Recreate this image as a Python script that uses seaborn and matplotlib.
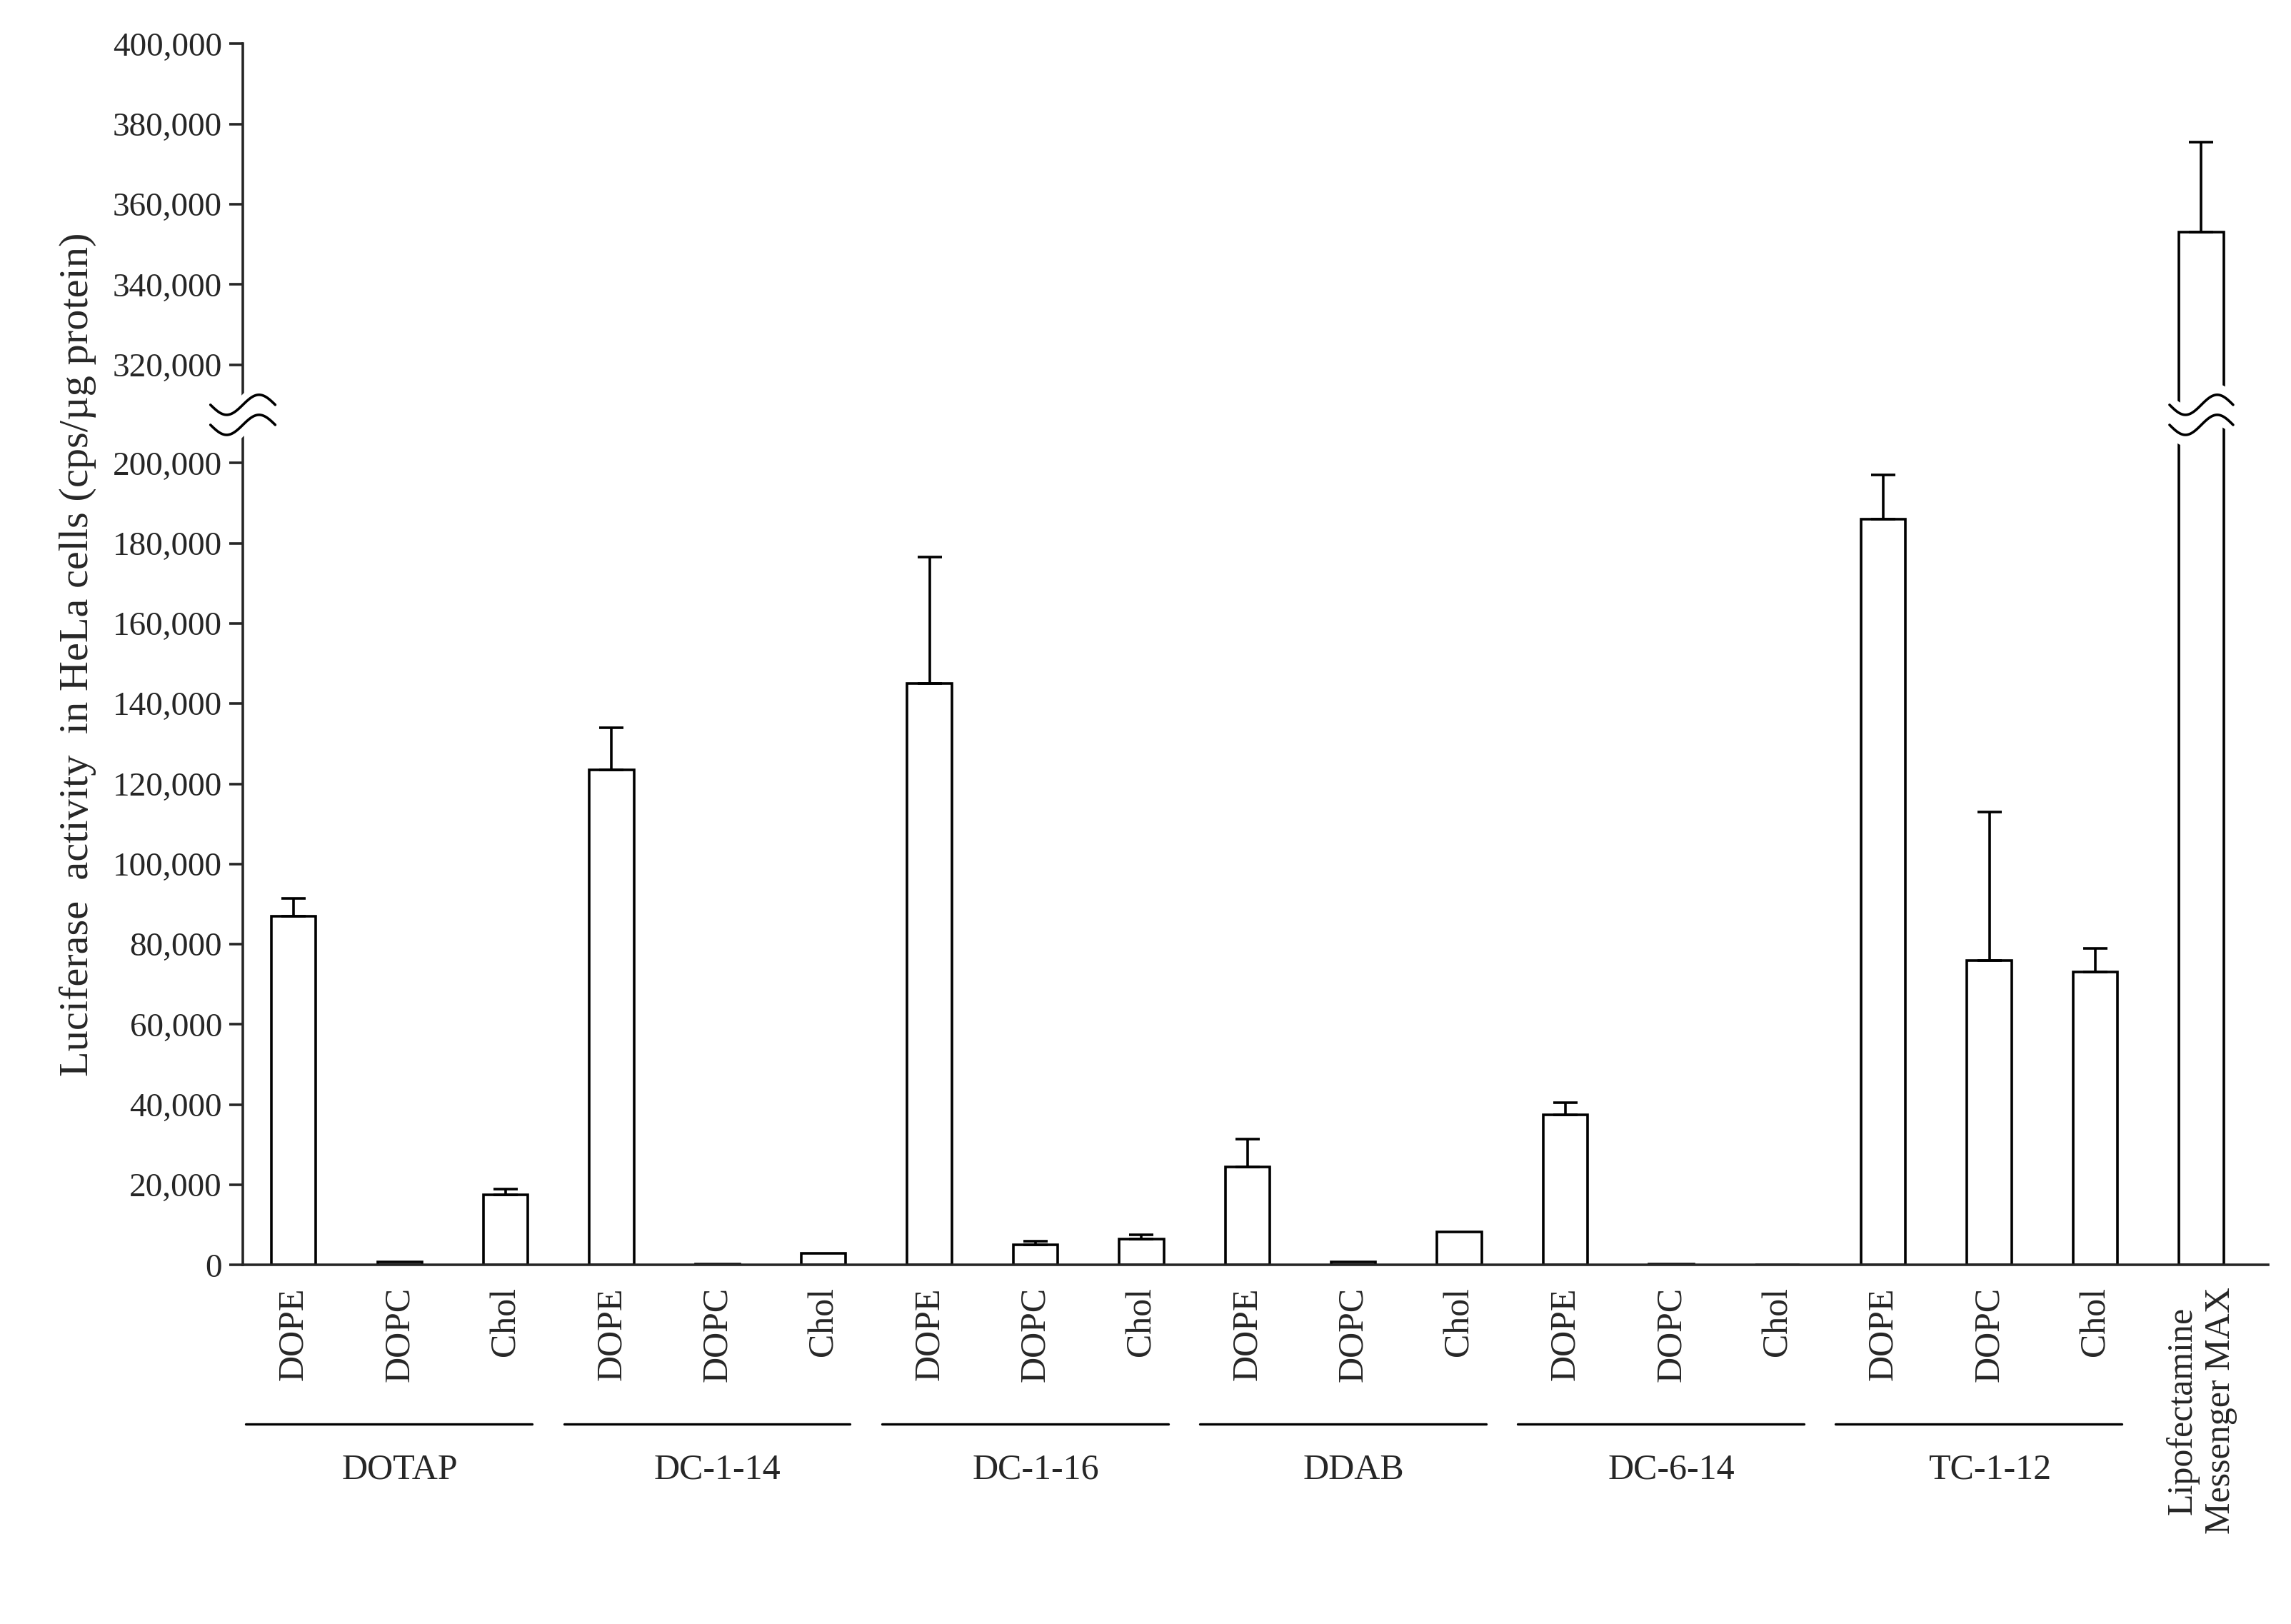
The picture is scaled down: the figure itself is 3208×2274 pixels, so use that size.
import numpy as np
import matplotlib
matplotlib.use("Agg")
import matplotlib.pyplot as plt
import matplotlib.transforms as mtransforms
import seaborn as sns

groups = ["DOTAP", "DC-1-14", "DC-1-16", "DDAB", "DC-6-14", "TC-1-12"]
helpers = ["DOPE", "DOPC", "Chol"]
values = [87000, 800, 17500,
          123500, 300, 3000,
          145000, 5000, 6500,
          24500, 800, 8200,
          37500, 300, 0,
          186000, 76000, 73000,
          353000]
errors = [4500, 0, 1500,
          10500, 0, 0,
          31500, 1000, 1000,
          7000, 0, 0,
          3000, 0, 0,
          11000, 37000, 6000,
          22500]
lower_ticks = [0, 20000, 40000, 60000, 80000, 100000, 120000, 140000, 160000, 180000, 200000]
upper_ticks = [320000, 340000, 360000, 380000, 400000]

# broken axis: values above the break are shifted down
SHIFT = 320000 - 224500
def disp(v):
    return v - SHIFT if v >= 300000 else v

sns.set_style("ticks")
plt.rcParams["font.family"] = ["Liberation Serif", "DejaVu Serif"]

fig = plt.figure(figsize=(16.04, 11.37), dpi=200)
ax = fig.add_axes([0.106, 0.221, 0.884, 0.752])

pos = np.arange(len(values))
dv = np.array([disp(v) for v in values])
top = np.array([disp(v + e) for v, e in zip(values, errors)]) - dv
sns.barplot(x=pos, y=dv, native_scale=True, width=0.42, fill=False,
            color="black", linewidth=1.3, ax=ax)
for p in ax.patches:
    p.set_edgecolor("black")
for x, y, e in zip(pos, dv, top):
    if e > 0:
        ax.errorbar([x], [y], yerr=[[0], [e]], fmt="none", ecolor="black",
                    elinewidth=1.3, capsize=6, capthick=1.3)

ax.set_xlim(-0.48, 18.63)
ax.set_ylim(0, disp(400000))
ticks = lower_ticks + [disp(t) for t in upper_ticks]
labels = [f"{t:,}" for t in lower_ticks + upper_ticks]
ax.set_yticks(ticks)
ax.set_yticklabels(labels, fontsize=17)
ax.tick_params(axis="y", length=7, width=1.3, direction="out")
ax.set_xticks([])
sns.despine(ax=ax)
ax.spines["left"].set_linewidth(1.3)
ax.spines["bottom"].set_linewidth(1.3)
ax.set_ylabel("Luciferase  activity  in HeLa cells (cps/µg protein)", fontsize=21, labelpad=8)

# break marks
ybr = 212000
t = np.linspace(-1, 1, 50)
for xc, trans, half in [(0, ax.get_yaxis_transform(), 0.016), (18, ax.transData, 0.3)]:
    for off in (-2500, 2500):
        xs = xc + t * half
        ys = ybr + off + 2500 * np.sin(t * np.pi)
        if off < 0:
            ax.fill_between(xs, ys - 2500, ys + 7500, color="white", transform=trans,
                            clip_on=False, zorder=5)
        ax.plot(xs, ys, color="black", lw=1.3, transform=trans, clip_on=False, zorder=6)

blend = mtransforms.blended_transform_factory(ax.transData, ax.transAxes)
for gi, g in enumerate(groups):
    for hi, h in enumerate(helpers):
        ax.text(gi * 3 + hi, -0.018, h, rotation=90, ha="center", va="top",
                fontsize=18, transform=blend)
    ax.plot([gi * 3 - 0.45, gi * 3 + 2.25], [-0.13, -0.13], color="black",
            lw=1.2, transform=blend, clip_on=False)
    ax.text(gi * 3 + 1, -0.168, g, ha="center", va="center", fontsize=18, transform=blend)
ax.text(18, -0.018, "Lipofectamine\nMessenger MAX", rotation=90, ha="center", va="top",
        fontsize=18, transform=blend, multialignment="center")

fig.savefig("out.png", dpi=200)
